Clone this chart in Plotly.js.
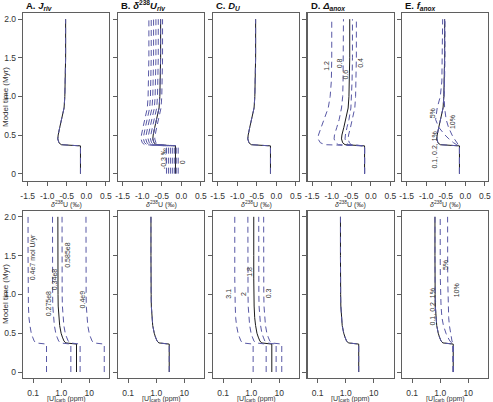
<!DOCTYPE html>
<html><head><meta charset="utf-8">
<script src="https://cdn.plot.ly/plotly-3.0.1.min.js"></script>
<style>html,body{margin:0;padding:0;background:#fff}#chart{width:493px;height:402px}</style>
</head><body><div id="chart"></div>
<script>
// ---------- DATA ----------
const timeMyr = [0, 0.36, 0.375, 0.40, 0.45, 0.5, 0.6, 0.7, 0.85, 1.0, 1.2, 1.5, 2.0];

// top row: seawater d238U (permil)
const d238Base = [-0.15,-0.15,-0.64,-0.70,-0.73,-0.72,-0.68,-0.63,-0.57,-0.55,-0.54,-0.53,-0.53];
const d238RivRuns = [
  [-0.38,-0.38,-0.94,-1.00,-1.03,-1.02,-0.98,-0.93,-0.87,-0.85,-0.84,-0.83,-0.83],
  [-0.33,-0.33,-0.88,-0.94,-0.97,-0.96,-0.92,-0.87,-0.81,-0.79,-0.78,-0.77,-0.77],
  [-0.28,-0.28,-0.82,-0.88,-0.91,-0.90,-0.86,-0.81,-0.75,-0.73,-0.72,-0.71,-0.71],
  [-0.23,-0.23,-0.76,-0.82,-0.85,-0.84,-0.80,-0.75,-0.69,-0.67,-0.66,-0.65,-0.65],
  [-0.18,-0.18,-0.70,-0.76,-0.79,-0.78,-0.74,-0.69,-0.63,-0.61,-0.60,-0.59,-0.59],
  [-0.13,-0.13,-0.64,-0.70,-0.73,-0.72,-0.68,-0.63,-0.57,-0.55,-0.54,-0.53,-0.53],
  [-0.08,-0.08,-0.59,-0.65,-0.68,-0.67,-0.63,-0.58,-0.52,-0.50,-0.49,-0.48,-0.48]
];
const anoxBase06 = [-0.16,-0.16,-0.66,-0.72,-0.75,-0.74,-0.69,-0.64,-0.58,-0.56,-0.55,-0.54,-0.54];
const anoxRuns = [
  [-0.16,-0.16,-1.17,-1.29,-1.35,-1.34,-1.27,-1.19,-1.09,-1.04,-1.01,-1.00,-1.00],
  [-0.16,-0.16,-0.83,-0.90,-0.94,-0.93,-0.87,-0.81,-0.75,-0.72,-0.71,-0.70,-0.70],
  [-0.16,-0.16,-0.58,-0.63,-0.66,-0.65,-0.61,-0.56,-0.51,-0.49,-0.48,-0.47,-0.47],
  [-0.16,-0.16,-0.50,-0.55,-0.58,-0.57,-0.52,-0.47,-0.41,-0.39,-0.38,-0.37,-0.37]
];
const fanox5 = [-0.15,-0.15,-0.22,-0.30,-0.42,-0.52,-0.68,-0.76,-0.72,-0.64,-0.60,-0.59,-0.58];
const fanox10 = [-0.15,-0.15,-0.18,-0.22,-0.28,-0.34,-0.43,-0.49,-0.53,-0.54,-0.53,-0.52,-0.52];

// bottom row: [U]carb (ppm)
const uBase = [2.9,2.9,1.24,1.07,0.94,0.85,0.75,0.70,0.67,0.66,0.65,0.65,0.65];
const uJrivBase = [3.5,3.5,1.45,1.25,1.10,0.99,0.88,0.82,0.78,0.77,0.76,0.76,0.76];
const uJrivRuns = [
  [0.30,0.30,0.125,0.109,0.096,0.086,0.077,0.071,0.068,0.067,0.066,0.066,0.066],
  [2.2,2.2,0.93,0.81,0.71,0.64,0.57,0.53,0.50,0.495,0.49,0.49,0.49],
  [4.7,4.7,2.03,1.77,1.55,1.39,1.24,1.16,1.10,1.08,1.07,1.07,1.07],
  [34,34,14.4,12.5,11.0,9.9,8.8,8.2,7.8,7.7,7.6,7.6,7.6]
];
const uDuBase = [5.4,5.4,2.34,2.03,1.78,1.6,1.43,1.33,1.27,1.24,1.23,1.23,1.23];
const uDuRuns = [
  [1.17,1.17,0.49,0.43,0.38,0.34,0.30,0.28,0.27,0.263,0.26,0.26,0.26],
  [3.4,3.4,1.44,1.25,1.10,0.99,0.88,0.82,0.78,0.77,0.76,0.76,0.76],
  [7.7,7.7,3.5,3.05,2.68,2.4,2.15,2.0,1.9,1.87,1.85,1.85,1.85],
  [12.2,12.2,5.26,4.57,4.02,3.6,3.21,2.99,2.85,2.8,2.77,2.77,2.77]
];
const uFanox5 = [2.9,2.9,2.55,2.2,1.85,1.6,1.3,1.15,1.07,1.03,1.01,1.0,1.0];
const uFanox10 = [2.9,2.9,2.8,2.62,2.45,2.3,2.12,2.0,1.92,1.88,1.85,1.84,1.83];

// tick labels
const yTickVals = [0, 0.5, 1, 1.5, 2];
const yTickText = ['0', '0.5', '1.0', '1.5', '2.0'];
const dTickVals = [-1.5, -1, -0.5, 0, 0.5];
const dTickText = ['-1.5', '-1.0', '-0.5', '0.0', '0.5'];
const uTickVals = [0.1, 1, 10];
const uTickText = ['0.1', '1.0', '10'];

const panelTitles = [
  '<b>A. <i>J</i><sub><i>riv</i></sub></b>',
  '<b>B. <i>δ</i><sup>238</sup><i>U</i><sub><i>riv</i></sub></b>',
  '<b>C. <i>D</i><sub><i>U</i></sub></b>',
  '<b>D. <i>Δ</i><sub><i>anox</i></sub></b>',
  '<b>E. <i>f</i><sub><i>anox</i></sub></b>'
];

// ---------- LAYOUT ----------
const W = 493, H = 402;
const colsPx = [[23,109],[118,204],[213,299],[307.5,393.5],[402,488]];
const rowsPx = [[13,181],[211,378]];
const BLUE = 'rgb(88,88,165)', BLACK = '#1a1a1a', FRAME = '#5f5f5f';
const FONT = 'Liberation Sans, Arial, sans-serif';

const traces = [];
function addLine(ax, xs, kind) {
  const id = ax === 1 ? '' : String(ax);
  traces.push({
    x: xs, y: timeMyr, xaxis: 'x' + id, yaxis: 'y' + id, mode: 'lines',
    line: kind === 'solid' ? {color: BLACK, width: 1} : {color: BLUE, width: 1, dash: '6px,4px'},
    hoverinfo: 'skip', showlegend: false
  });
}

// top row
addLine(1, d238Base, 'solid'); addLine(1, d238Base, 'dash');
addLine(2, d238Base, 'solid'); d238RivRuns.forEach(r => addLine(2, r, 'dash'));
addLine(3, d238Base, 'solid'); addLine(3, d238Base, 'dash');
addLine(4, anoxBase06, 'solid'); anoxRuns.forEach(r => addLine(4, r, 'dash'));
addLine(5, d238Base, 'solid'); addLine(5, d238Base, 'dash'); addLine(5, fanox5, 'dash'); addLine(5, fanox10, 'dash');
// bottom row
addLine(6, uJrivBase, 'solid'); uJrivRuns.forEach(r => addLine(6, r, 'dash'));
addLine(7, uBase, 'solid'); addLine(7, uBase, 'dash');
addLine(8, uDuBase, 'solid'); uDuRuns.forEach(r => addLine(8, r, 'dash'));
addLine(9, uBase, 'solid'); addLine(9, uBase, 'dash');
addLine(10, uBase, 'solid'); addLine(10, uBase, 'dash'); addLine(10, uFanox5, 'dash'); addLine(10, uFanox10, 'dash');

const layout = {
  width: W, height: H, margin: {l:0, r:0, t:0, b:0},
  paper_bgcolor: '#fff', plot_bgcolor: '#fff',
  font: {family: FONT, size: 8, color: '#333'},
  showlegend: false, annotations: []
};

for (let r = 0; r < 2; r++) {
  for (let c = 0; c < 5; c++) {
    const n = r * 5 + c + 1;
    const id = n === 1 ? '' : String(n);
    const xd = [colsPx[c][0] / W, colsPx[c][1] / W];
    const yd = [1 - rowsPx[r][1] / H, 1 - rowsPx[r][0] / H];
    const common = {showline: true, mirror: true, linecolor: FRAME, linewidth: 1.3,
      ticks: 'outside', ticklen: 4, tickwidth: 1, tickcolor: FRAME,
      showgrid: false, zeroline: false, fixedrange: true,
      tickfont: {family: FONT, size: 8.5, color: '#333'}};
    layout['xaxis' + id] = Object.assign({}, common, {
      domain: xd, anchor: 'y' + id, ticklabelstandoff: 2,
      type: r === 0 ? 'linear' : 'log',
      range: r === 0 ? [-1.62, 0.58] : [-1.36, 1.7],
      tickmode: 'array',
      tickvals: r === 0 ? dTickVals : uTickVals,
      ticktext: r === 0 ? dTickText : uTickText
    });
    layout['yaxis' + id] = Object.assign({}, common, {
      domain: yd, anchor: 'x' + id,
      range: r === 0 ? [-0.095, 2.08] : [-0.077, 2.075],
      tickmode: 'array', tickvals: yTickVals, ticktext: yTickText,
      showticklabels: c === 0
    });
    // x-axis titles
    layout.annotations.push({
      xref: 'paper', yref: 'paper', showarrow: false,
      x: (xd[0] + xd[1]) / 2, y: 1 - (r === 0 ? 204 : 398.5) / H,
      xanchor: 'center', yanchor: 'middle',
      text: r === 0 ? '<i>δ</i><sup>238</sup>U (‰)' : '[U]<sub>carb</sub> (ppm)',
      font: {family: FONT, size: 7, color: '#333'}
    });
  }
}

// panel titles
panelTitles.forEach((t, c) => layout.annotations.push({
  xref: 'paper', yref: 'paper', showarrow: false,
  x: (colsPx[c][0] + 1) / W, y: 1 - 5.5 / H, xanchor: 'left', yanchor: 'middle',
  text: t, font: {family: FONT, size: 9.5, color: '#111'}
}));

// y-axis titles
[97, 294].forEach(py => layout.annotations.push({
  xref: 'paper', yref: 'paper', showarrow: false, textangle: -90,
  x: 5 / W, y: 1 - py / H, xanchor: 'center', yanchor: 'middle',
  text: 'Model time (Myr)', font: {family: FONT, size: 8, color: '#333'}
}));

// curve labels
function lab(ax, x, y, text) {
  const id = ax === 1 ? '' : String(ax);
  layout.annotations.push({xref: 'x' + id, yref: 'y' + id, x: x, y: y, text: text,
    showarrow: false, textangle: -90, xanchor: 'center', yanchor: 'middle',
    font: {family: FONT, size: 7, color: '#333'}});
}
lab(2, -0.47, 0.2, '-0.3 ‰'); lab(2, 0.02, 0.15, '0');
lab(4, -1.14, 1.4, '1.2'); lab(4, -0.81, 1.43, '0.8'); lab(4, -0.64, 1.28, '0.6'); lab(4, -0.26, 1.43, '0.4');
lab(5, -0.83, 0.78, '5%'); lab(5, -0.31, 0.67, '10%'); lab(5, -0.8, 0.3, '0.1, 0.2, 1%');
lab(6, -1.0, 1.48, '0.4e7 mol U/yr'); lab(6, -0.45, 0.88, '0.275e8'); lab(6, -0.21, 1.2, '0.34e8');
lab(6, 0.21, 1.5, '0.585e8'); lab(6, 0.76, 0.93, '0.4e9');
lab(8, -0.79, 1.01, '3.1'); lab(8, -0.28, 1.01, '2'); lab(8, -0.05, 1.29, '1.8'); lab(8, 0.62, 1.01, '0.3');
lab(10, 0.21, 1.38, '5%'); lab(10, 0.59, 1.05, '10%'); lab(10, -0.27, 0.84, '0.1, 0.2, 1%');

Plotly.newPlot('chart', traces, layout, {staticPlot: true, displayModeBar: false});
</script>
</body></html>
